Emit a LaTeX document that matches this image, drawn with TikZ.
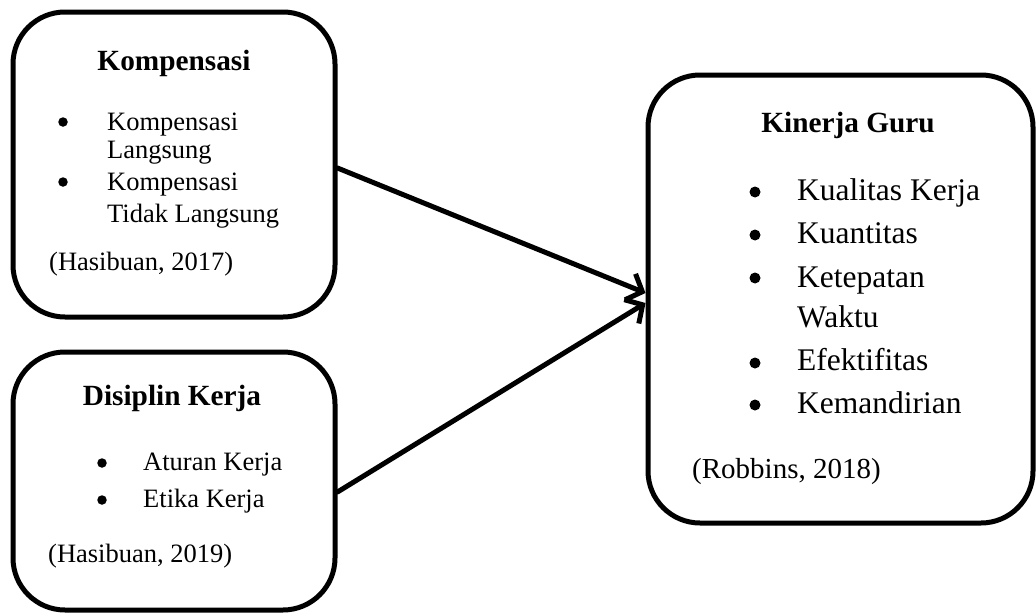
\documentclass[tikz,border=0pt]{standalone}
\usepackage{fontspec}
\setmainfont{Liberation Serif}
\usetikzlibrary{arrows.meta}
\begin{document}
\begin{tikzpicture}[x=1pt,y=-1pt,
  box/.style={draw, line width=5pt, rounded corners=52pt, inner sep=0pt},
  title/.style={font=\fontsize{29.3}{35}\selectfont\bfseries, anchor=base, inner sep=0pt},
  item/.style={font=\fontsize{26.5}{32}\selectfont, anchor=base west, inner sep=0pt},
  bigitem/.style={font=\fontsize{31.5}{38}\selectfont, anchor=base west, inner sep=0pt},
  bul/.style={circle, fill, inner sep=0pt, minimum size=9.5pt},
  bigbul/.style={circle, fill, inner sep=0pt, minimum size=11pt},
  conn/.style={line width=5pt, line cap=round, line join=round, -{Straight Barb[length=13pt,width=28pt]}}]
\useasboundingbox (0,0) rectangle (1036,613);

% boxes
\node[box, minimum width=322pt, minimum height=305pt] (k) at (174,164.5) {};
\node[box, minimum width=322pt, minimum height=258pt] (d) at (174,481) {};
\node[box, minimum width=385pt, minimum height=448pt] (g) at (840.5,299) {};

% Kompensasi
\node[title] (kt) at (174,70) {Kompensasi};
\node[bul] (kb1) at (63,122) {};
\node[item] (ki1) at (107,130) {Kompensasi};
\node[item] (ki1b) at (107,158) {Langsung};
\node[bul] (kb2) at (63,182) {};
\node[item] (ki2) at (107,190) {Kompensasi};
\node[item] (ki2b) at (107,222) {Tidak Langsung};
\node[item] (kc) at (49,270) {(Hasibuan, 2017)};

% Disiplin Kerja
\node[title] (dt) at (172,405) {Disiplin Kerja};
\node[bul] (db1) at (102,463) {};
\node[item] (di1) at (143,470) {Aturan Kerja};
\node[bul] (db2) at (102,500) {};
\node[item] (di2) at (143,507) {Etika Kerja};
\node[item] (dc) at (48,562) {(Hasibuan, 2019)};

% Kinerja Guru
\node[title] (gt) at (848,132) {Kinerja Guru};
\node[bigbul] (gb1) at (755,192) {};
\node[bigitem] (gi1) at (797,200) {Kualitas Kerja};
\node[bigbul] (gb2) at (755,235) {};
\node[bigitem] (gi2) at (797,243) {Kuantitas};
\node[bigbul] (gb3) at (755,278) {};
\node[bigitem] (gi3) at (797,287) {Ketepatan};
\node[bigitem] (gi3b) at (797,327) {Waktu};
\node[bigbul] (gb4) at (755,363) {};
\node[bigitem] (gi4) at (797,370) {Efektifitas};
\node[bigbul] (gb5) at (755,405) {};
\node[bigitem] (gi5) at (797,413) {Kemandirian};
\node[item, font=\fontsize{29}{35}\selectfont] (gc) at (692,478) {(Robbins, 2018)};

% connectors
\draw[conn] ([yshift=-3.5pt]k.east) -- ([yshift=6pt]g.west);
\draw[conn] ([yshift=-11pt]d.east) -- ([yshift=-4pt]g.west);
\end{tikzpicture}
\end{document}
